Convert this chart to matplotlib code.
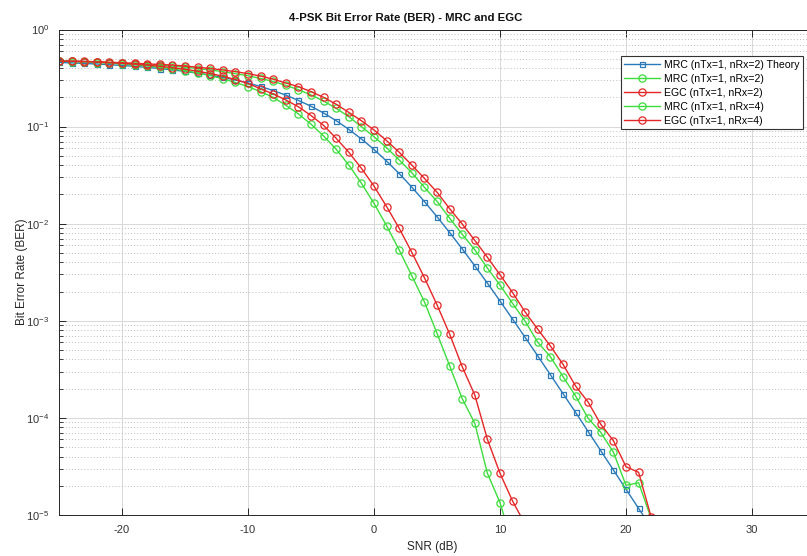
import numpy as np
import matplotlib
matplotlib.use("Agg")
import matplotlib.pyplot as plt
from matplotlib.ticker import NullLocator, LogLocator

plt.rcParams['font.family'] = ['Liberation Sans', 'DejaVu Sans']
plt.rcParams['mathtext.default'] = 'regular'
plt.rcParams['axes.unicode_minus'] = False

# ---- data ----
snr_rx2 = list(range(-25, 23))
snr_rx4_mrc = list(range(-25, 12))
snr_rx4_egc = list(range(-25, 13))

ber_mrc2_theory = [0.458, 0.453, 0.447, 0.441, 0.434, 0.426, 0.417, 0.407, 0.396, 0.384,
                   0.370, 0.355, 0.339, 0.321, 0.302, 0.281, 0.259, 0.235, 0.211, 0.186,
                   0.162, 0.138, 0.115, 0.0937, 0.0746, 0.0581, 0.0441, 0.0328, 0.0238, 0.0169,
                   0.0118, 0.00813, 0.00551, 0.00368, 0.00244, 0.00160, 0.00104, 6.74e-4, 4.34e-4, 2.78e-4,
                   1.78e-4, 1.14e-4, 7.22e-5, 4.59e-5, 2.91e-5, 1.84e-5, 1.17e-5, 7.4e-6]

ber_mrc2_sim = [0.472, 0.470, 0.466, 0.462, 0.456, 0.450, 0.443, 0.435, 0.428, 0.420,
                0.410, 0.396, 0.384, 0.368, 0.351, 0.334, 0.313, 0.292, 0.266, 0.240,
                0.212, 0.183, 0.154, 0.1265, 0.0998, 0.0787, 0.0606, 0.0453, 0.0335, 0.0237,
                0.0170, 0.0114, 0.00778, 0.00538, 0.00349, 0.00233, 0.00151, 9.88e-4, 6.0e-4, 4.27e-4,
                2.66e-4, 1.68e-4, 9.9e-5, 7.1e-5, 4.43e-5, 2.02e-5, 2.15e-5, 9.2e-6]

ber_egc2_sim = [0.474, 0.474, 0.470, 0.466, 0.460, 0.455, 0.449, 0.442, 0.437, 0.430,
                0.421, 0.408, 0.397, 0.383, 0.368, 0.351, 0.331, 0.308, 0.281, 0.258,
                0.229, 0.200, 0.170, 0.140, 0.115, 0.0923, 0.0716, 0.0544, 0.0402, 0.0293,
                0.0211, 0.0143, 0.00993, 0.00673, 0.00451, 0.00298, 0.00195, 0.00123, 8.17e-4, 5.50e-4,
                3.56e-4, 2.13e-4, 1.45e-4, 8.59e-5, 5.82e-5, 3.14e-5, 2.75e-5, 9.5e-6]

ber_mrc4_sim = [0.472, 0.468, 0.463, 0.457, 0.450, 0.442, 0.432, 0.421, 0.408, 0.393,
                0.376, 0.357, 0.335, 0.311, 0.285, 0.258, 0.229, 0.200, 0.166, 0.135,
                0.106, 0.080, 0.0584, 0.0402, 0.0261, 0.0162, 0.00953, 0.00536, 0.00291, 0.00157,
                7.43e-4, 3.45e-4, 1.58e-4, 8.79e-5, 2.69e-5, 1.34e-5, 5e-6]

ber_egc4_sim = [0.473, 0.470, 0.466, 0.461, 0.455, 0.448, 0.440, 0.430, 0.418, 0.405,
                0.390, 0.372, 0.352, 0.330, 0.305, 0.278, 0.245, 0.217, 0.188, 0.160,
                0.130, 0.103, 0.0757, 0.0544, 0.0372, 0.0244, 0.0150, 0.00897, 0.00507, 0.00278,
                0.00146, 7.31e-4, 3.37e-4, 1.72e-4, 6.02e-5, 2.69e-5, 1.39e-5, 8e-6]

labels = ['MRC (nTx=1, nRx=2) Theory', 'MRC (nTx=1, nRx=2)', 'EGC (nTx=1, nRx=2)',
          'MRC (nTx=1, nRx=4)', 'EGC (nTx=1, nRx=4)']
x_ticks = [-20, -10, 0, 10, 20, 30]

# ---- styling ----
c_blue = '#2a7ab9'
c_green = '#3ddc3d'
c_red = '#e42626'

W, H = 807, 556
fig = plt.figure(figsize=(W / 100, H / 100), dpi=100)
fig.patch.set_facecolor('white')
ax = fig.add_axes([59 / W, (H - 515) / H, 756 / W, (515 - 29.5) / H])

lw = 1.0
ax.plot(snr_rx2, ber_mrc2_theory, '-s', color=c_blue, mfc='none', ms=3.6, mew=0.9, lw=lw, label=labels[0])
ax.plot(snr_rx2, ber_mrc2_sim, '-o', color=c_green, mfc='none', ms=5.2, mew=0.9, lw=lw, label=labels[1])
ax.plot(snr_rx2, ber_egc2_sim, '-o', color=c_red, mfc='none', ms=5.2, mew=0.9, lw=lw, label=labels[2])
ax.plot(snr_rx4_mrc, ber_mrc4_sim, '-o', color=c_green, mfc='none', ms=5.2, mew=0.9, lw=lw, label=labels[3])
ax.plot(snr_rx4_egc, ber_egc4_sim, '-o', color=c_red, mfc='none', ms=5.2, mew=0.9, lw=lw, label=labels[4])

ax.set_yscale('log')
ax.set_ylim(1e-5, 1)
ax.set_xlim(-25, 35)
ax.set_xticks(x_ticks)
ax.xaxis.set_minor_locator(NullLocator())
ax.yaxis.set_major_locator(LogLocator(base=10, numticks=10))
ax.yaxis.set_minor_locator(LogLocator(base=10, subs=np.arange(2, 10), numticks=20))

ax.grid(True, which='major', color='#d8d8d8', lw=0.7, ls='-')
ax.grid(True, which='minor', axis='y', color='#bdbdbd', lw=0.7, ls=(0, (1, 2.2)))
ax.set_axisbelow(True)

for s in ax.spines.values():
    s.set_color('#262626')
    s.set_linewidth(0.7)

ax.tick_params(which='major', direction='in', top=True, right=False, length=5,
               width=0.7, colors='#262626', labelsize=8, pad=7)
ax.tick_params(which='minor', direction='in', top=False, right=False, length=2.8,
               width=0.6, colors='#262626')
for lab in ax.get_xticklabels() + ax.get_yticklabels():
    lab.set_color('#333333')

fig.text(406 / W, 1 - 18 / H, '4-PSK Bit Error Rate (BER) - MRC and EGC',
         ha='center', va='center', fontsize=8.2, fontweight='bold', color='#111111')
fig.text(432 / W, 1 - 547 / H, 'SNR (dB)', ha='center', va='center', fontsize=8.5, color='#262626')
fig.text(22 / W, 1 - 272 / H, 'Bit Error Rate (BER)', ha='center', va='center',
         rotation=90, fontsize=8.5, color='#262626')

leg = ax.legend(loc='upper right', bbox_to_anchor=(803 / W, 1 - 56 / H),
                bbox_transform=fig.transFigure, borderaxespad=0, fontsize=7.6,
                fancybox=False, framealpha=1, edgecolor='#333333',
                handlelength=3.4, handletextpad=0.35, labelspacing=0.38,
                borderpad=0.35)
leg.get_frame().set_linewidth(0.8)

fig.savefig('out.png', dpi=100)
